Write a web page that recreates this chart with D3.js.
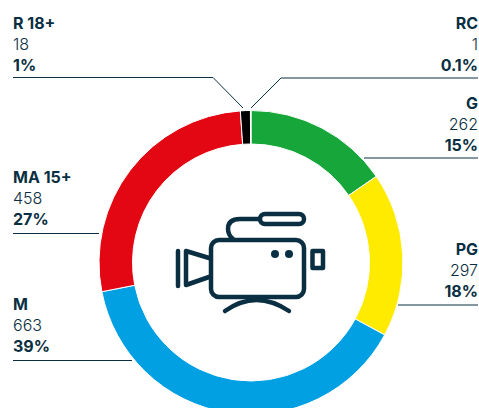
<!DOCTYPE html>
<html>
<head>
<meta charset="utf-8">
<script src="https://cdnjs.cloudflare.com/ajax/libs/d3/7.8.5/d3.min.js"></script>
<style>
html,body{margin:0;padding:0;background:#fff;overflow:hidden}
svg{display:block}
text{font-family:Inter,"Open Sans",sans-serif;fill:#0a2f42}
</style>
</head>
<body>
<svg id="chart" width="479" height="408"></svg>
<script>
// Film classifications, in clockwise order from twelve o'clock
const ratings = ["G", "PG", "M", "MA 15+", "R 18+", "RC"];
const counts = [262, 297, 663, 458, 18, 1];
const shares = ["15%", "18%", "39%", "27%", "1%", "0.1%"];
const colours = ["#17a63a", "#ffeb00", "#00a0e3", "#e30613", "#000000", "#000000"];

// Label placement per rating: side, baseline of the first row, and leader path
const labelSide = ["end", "end", "start", "start", "start", "end"];
const labelTop = [109, 255, 310, 183, 29, 29];
const leaders = [
  [[478, 158], [364, 158]],
  [[478, 305], [398, 305]],
  [[13, 360.5], [132, 360.5]],
  [[13, 233.5], [99, 233.5]],
  [[13, 77.5], [213, 77.5], [243, 108]],
  [[478, 78], [281, 78], [251, 108]]
];

const cx = 251, cy = 262.5, outer = 152, inner = 118.5;
const svg = d3.select("#chart");

const pie = d3.pie().sort(null).value(d => d)(counts);
const arc = d3.arc().innerRadius(inner).outerRadius(outer);

svg.append("g").attr("transform", `translate(${cx},${cy})`)
  .selectAll("path").data(pie).join("path")
  .attr("d", arc)
  .attr("fill", (d, i) => colours[i])
  .attr("stroke", "#fff")
  .attr("stroke-width", 1);

// Leader lines
const line = d3.line();
svg.append("g").selectAll("path").data(leaders).join("path")
  .attr("d", d => line(d))
  .attr("fill", "none")
  .attr("stroke", "#0a2f42")
  .attr("stroke-width", 1);

// Three-row labels: name, count, share
ratings.forEach((name, i) => {
  const x = labelSide[i] === "end" ? 478 : 13;
  const g = svg.append("g").attr("text-anchor", labelSide[i]).attr("font-size", 16);
  g.append("text").attr("x", x).attr("y", labelTop[i]).attr("font-weight", 700).text(name);
  g.append("text").attr("x", x).attr("y", labelTop[i] + 21).attr("font-weight", 300).text(counts[i]);
  g.append("text").attr("x", x).attr("y", labelTop[i] + 42).attr("font-weight", 700).text(shares[i]);
});

// Video camera pictogram in the middle of the ring
const icon = svg.append("g")
  .attr("fill", "none")
  .attr("stroke", "#0a2f42")
  .attr("stroke-width", 4.5)
  .attr("stroke-linecap", "round")
  .attr("stroke-linejoin", "round");
icon.append("rect").attr("x", 211).attr("y", 240).attr("width", 93).attr("height", 57).attr("rx", 8);
icon.append("rect").attr("x", 260).attr("y", 214).attr("width", 44).attr("height", 10).attr("rx", 5);
icon.append("path").attr("d", "M259 219H240Q228 219 228 229Q228 235 233 239");
icon.append("path").attr("d", "M209 258L186 251V285L209 277");
icon.append("path").attr("d", "M178 251V286");
icon.append("rect").attr("x", 312.5).attr("y", 251).attr("width", 10.5).attr("height", 17);
icon.append("path").attr("d", "M225 311Q256 289 289 311");
icon.append("circle").attr("cx", 275).attr("cy", 254).attr("r", 4).attr("fill", "#0a2f42").attr("stroke", "none");
icon.append("circle").attr("cx", 289).attr("cy", 254).attr("r", 4).attr("fill", "#0a2f42").attr("stroke", "none");
</script>
</body>
</html>
